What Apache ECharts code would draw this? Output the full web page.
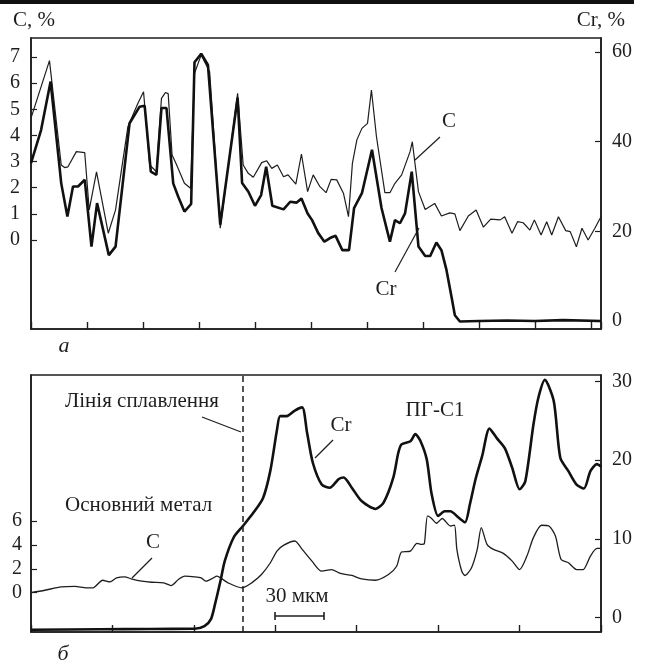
<!DOCTYPE html>
<html>
<head>
<meta charset="utf-8">
<script src="https://cdn.jsdelivr.net/npm/echarts@6/dist/echarts.min.js"></script>
<style>
  html, body { margin: 0; padding: 0; background: #fff; }
  #chart { width: 647px; height: 663px; }
</style>
</head>
<body>
<div id="chart"></div>
<script>
// панель а: C (ліва вісь), Cr (права вісь)
var aCx = [0, 0.33, 0.54, 0.60, 0.66, 0.81, 0.96, 1.04, 1.17, 1.38, 1.51, 1.73, 1.91, 2.01, 2.12, 2.24, 2.33, 2.40, 2.45, 2.52, 2.59, 2.74, 2.85, 2.92, 3.04, 3.19, 3.38, 3.69, 3.79, 3.88, 3.97, 4.12, 4.21, 4.30, 4.40, 4.51, 4.59, 4.73, 4.83, 4.94, 5.04, 5.16, 5.27, 5.36, 5.46, 5.58, 5.67, 5.74, 5.82, 5.91, 6.01, 6.08, 6.17, 6.32, 6.41, 6.50, 6.62, 6.77, 6.81, 6.92, 7.04, 7.21, 7.33, 7.48, 7.57, 7.66, 7.81, 7.95, 8.08, 8.21, 8.38, 8.46, 8.59, 8.69, 8.79, 8.91, 8.99, 9.11, 9.21, 9.30, 9.42, 9.55, 9.63, 9.74, 9.84, 9.95, 10.07, 10.18];
var aC = [4.66, 6.86, 2.87, 2.77, 2.80, 3.38, 3.34, 1.15, 2.61, 0.26, 1.15, 4.33, 5.23, 5.67, 2.87, 2.61, 5.42, 5.64, 5.60, 3.25, 2.93, 2.17, 1.98, 6.38, 7.08, 6.44, 0.45, 5.61, 2.87, 2.55, 2.40, 2.96, 3.03, 2.74, 2.87, 2.42, 2.49, 2.14, 3.29, 1.85, 2.49, 2.04, 1.81, 2.32, 2.30, 1.79, 0.89, 2.93, 3.83, 4.27, 4.46, 5.74, 3.95, 1.81, 1.81, 2.17, 2.49, 3.38, 3.76, 1.85, 1.17, 1.40, 0.92, 1.04, 1.00, 0.36, 0.92, 1.15, 0.49, 0.80, 0.77, 0.89, 0.26, 0.70, 0.66, 0.38, 0.77, 0.19, 0.70, 0.19, 0.89, 0.36, 0.32, -0.26, 0.45, 0.00, 0.45, 0.89];
var aCrx = [0, 0.18, 0.35, 0.54, 0.65, 0.75, 0.84, 0.96, 1.08, 1.18, 1.39, 1.51, 1.76, 1.94, 2.03, 2.14, 2.24, 2.33, 2.42, 2.54, 2.63, 2.74, 2.86, 2.92, 3.04, 3.16, 3.38, 3.69, 3.77, 3.88, 4.00, 4.11, 4.20, 4.31, 4.51, 4.63, 4.74, 4.83, 4.94, 5.02, 5.13, 5.24, 5.34, 5.44, 5.56, 5.68, 5.77, 5.91, 6.09, 6.26, 6.41, 6.50, 6.59, 6.68, 6.80, 6.92, 7.04, 7.13, 7.24, 7.33, 7.42, 7.51, 7.57, 7.66, 8.0, 8.5, 9.0, 9.5, 10.18];
var aCr = [35.2, 42.6, 53.4, 30.7, 23.3, 30.0, 30.0, 31.5, 16.6, 26.3, 14.7, 16.6, 44.1, 47.8, 48.0, 33.3, 32.6, 47.5, 47.5, 30.7, 27.7, 24.4, 26.1, 57.7, 59.6, 57.1, 21.5, 49.8, 30.8, 28.9, 25.7, 28.1, 34.4, 25.7, 24.9, 26.6, 26.4, 27.3, 24.0, 22.5, 19.6, 17.7, 18.5, 19.0, 15.8, 15.8, 25.2, 28.5, 38.2, 25.2, 17.7, 22.5, 21.8, 24.0, 33.3, 16.6, 14.5, 14.5, 17.5, 15.8, 11.4, 5.4, 1.3, -0.1, 0, 0.1, 0, 0.2, 0];

// панель б
var bCx = [0, 0.17, 0.37, 0.54, 0.68, 0.76, 0.88, 0.97, 1.05, 1.15, 1.23, 1.36, 1.48, 1.63, 1.72, 1.81, 1.89, 2.01, 2.09, 2.15, 2.24, 2.28, 2.42, 2.59, 2.71, 2.83, 2.94, 3.02, 3.10, 3.24, 3.33, 3.45, 3.57, 3.69, 3.80, 3.94, 4.06, 4.23, 4.39, 4.49, 4.55, 4.66, 4.74, 4.80, 4.83, 4.87, 4.92, 4.98, 5.05, 5.15, 5.20, 5.23, 5.29, 5.33, 5.41, 5.48, 5.53, 5.60, 5.68, 5.80, 5.91, 6.00, 6.09, 6.17, 6.27, 6.36, 6.44, 6.51, 6.60, 6.70, 6.78, 6.87, 6.95, 7.0];
var bC = [0, 0.2, 0.48, 0.53, 0.40, 0.40, 1.04, 0.90, 1.24, 1.33, 1.16, 0.96, 0.87, 0.82, 0.59, 1.10, 1.38, 1.33, 1.24, 0.96, 1.24, 1.38, 0.82, 0.40, 0.82, 1.52, 2.51, 3.49, 3.97, 4.34, 3.63, 2.65, 1.80, 1.94, 1.61, 1.44, 1.16, 1.04, 1.52, 2.22, 3.41, 3.49, 4.14, 4.06, 4.1, 6.45, 6.23, 5.83, 6.23, 5.60, 5.66, 3.63, 1.80, 1.44, 2.09, 3.63, 5.47, 4.06, 3.63, 3.30, 2.65, 1.94, 3.07, 4.62, 5.66, 5.60, 4.76, 2.79, 2.51, 1.94, 1.94, 3.07, 3.72, 3.72];
var bCrx = [0, 0.85, 1.46, 2.01, 2.13, 2.21, 2.26, 2.33, 2.38, 2.49, 2.60, 2.73, 2.85, 2.94, 3.02, 3.06, 3.14, 3.24, 3.33, 3.39, 3.46, 3.57, 3.67, 3.78, 3.84, 3.94, 4.06, 4.23, 4.33, 4.45, 4.51, 4.55, 4.66, 4.72, 4.78, 4.86, 4.92, 5.00, 5.08, 5.15, 5.25, 5.33, 5.39, 5.46, 5.54, 5.63, 5.72, 5.82, 5.91, 6.00, 6.07, 6.17, 6.23, 6.31, 6.42, 6.50, 6.60, 6.70, 6.79, 6.87, 6.95, 7.0];
var bCr = [-1.55, -1.5, -1.45, -1.43, -1.1, -0.2, 1.7, 4.8, 7.2, 10.2, 11.6, 13.3, 15.2, 18.7, 23.8, 25.6, 25.6, 26.3, 26.7, 23.5, 19.7, 16.9, 16.5, 17.6, 17.8, 16.5, 14.8, 13.8, 14.6, 17.8, 20.9, 22.0, 22.4, 23.3, 22.5, 20.1, 15.7, 12.9, 13.5, 13.5, 12.7, 12.1, 14.4, 17.6, 20.5, 24.0, 22.8, 21.5, 19.0, 16.3, 17.3, 24.5, 27.9, 30.2, 27.5, 20.3, 18.6, 16.9, 16.4, 18.6, 19.5, 19.2];

// лінія сплавлення
var fusionX = 2.6;

// підписи осей
var aCTicks = [0, 1, 2, 3, 4, 5, 6, 7];
var aCrTicks = [0, 20, 40, 60];
var bCTicks = [0, 2, 4, 6];
var bCrTicks = [0, 10, 20, 30];

function zip(xs, ys) {
  return xs.map(function (x, i) { return [x, ys[i]]; });
}

var ink = '#1e1e1e';
var serif = 'Liberation Serif';

function yAx(gi, pos, min, max, ticks, margin) {
  return {
    type: 'value', gridIndex: gi, position: pos, min: min, max: max,
    splitLine: {show: false},
    axisLine: {show: true, onZero: false, lineStyle: {color: ink, width: 1.6}},
    axisTick: {show: true, inside: true, length: 6, customValues: ticks, lineStyle: {color: ink, width: 1.2}},
    axisLabel: {customValues: ticks, margin: margin, color: ink, fontFamily: serif, fontSize: 20}
  };
}

function xAx(gi, max) {
  return {
    type: 'value', gridIndex: gi, min: 0, max: max, interval: 1,
    splitLine: {show: false},
    axisLine: {show: true, onZero: false, lineStyle: {color: ink, width: 1.6}},
    axisTick: {show: true, inside: true, length: 7, lineStyle: {color: ink, width: 1.4}},
    axisLabel: {show: false}
  };
}

function txt(x, y, s, size, align, italic) {
  return {
    type: 'text', x: x, y: y,
    style: {text: s, fill: ink, font: (italic ? 'italic ' : '') + size + 'px "' + serif + '"', textAlign: align || 'left', textVerticalAlign: 'middle'}
  };
}
function seg(x1, y1, x2, y2, w) {
  return {type: 'line', shape: {x1: x1, y1: y1, x2: x2, y2: y2}, style: {stroke: ink, lineWidth: w || 1.2}};
}

var chart = echarts.init(document.getElementById('chart'));
chart.setOption({
  backgroundColor: '#fff',
  animation: false,
  grid: [
    {left: 31, top: 38, width: 570, height: 291, show: true, borderColor: ink, borderWidth: 1.6},
    {left: 31, top: 375, width: 570, height: 257, show: true, borderColor: ink, borderWidth: 1.6}
  ],
  xAxis: [xAx(0, 10.18), xAx(1, 7.0)],
  yAxis: [
    yAx(0, 'left', -3.404, 7.727, aCTicks, 11),
    yAx(0, 'right', -1.78, 63.12, aCrTicks, 11),
    yAx(1, 'left', -3.31, 18.29, bCTicks, 9),
    yAx(1, 'right', -1.84, 30.82, bCrTicks, 11)
  ],
  series: [
    {name: 'C', type: 'line', xAxisIndex: 0, yAxisIndex: 0, data: zip(aCx, aC), showSymbol: false,
      lineStyle: {color: ink, width: 1.2}},
    {name: 'Cr', type: 'line', xAxisIndex: 0, yAxisIndex: 1, data: zip(aCrx, aCr), showSymbol: false,
      lineStyle: {color: '#111', width: 2.6}},
    {name: 'C', type: 'line', xAxisIndex: 1, yAxisIndex: 2, data: zip(bCx, bC), showSymbol: false, smooth: 0.25,
      lineStyle: {color: ink, width: 1.3},
      markLine: {silent: true, symbol: 'none', label: {show: false},
        lineStyle: {color: ink, type: [6, 4], width: 1.5}, data: [{xAxis: fusionX}]}},
    {name: 'Cr', type: 'line', xAxisIndex: 1, yAxisIndex: 3, data: zip(bCrx, bCr), showSymbol: false, smooth: 0.25,
      lineStyle: {color: '#111', width: 2.6}}
  ],
  graphic: [
    {type: 'rect', shape: {x: 0, y: 0, width: 634, height: 4}, style: {fill: '#111'}},
    txt(13, 20, 'C, %', 21),
    txt(625, 20, 'Cr, %', 21, 'right'),
    // панель а
    txt(449, 121, 'C', 21, 'center'),
    seg(440, 137, 415, 160),
    txt(386, 289, 'Cr', 21, 'center'),
    seg(395, 272, 419, 228),
    txt(64, 346, 'а', 22, 'center', true),
    // панель б
    txt(65, 401, 'Лінія сплавлення', 21),
    seg(202, 417, 241, 432),
    txt(65, 505, 'Основний метал', 21),
    txt(153, 542, 'C', 21, 'center'),
    seg(152, 558, 132, 578),
    txt(341, 425, 'Cr', 21, 'center'),
    seg(333, 440, 315, 458),
    txt(435, 410, 'ПГ-С1', 21, 'center'),
    txt(297, 596, '30 мкм', 21, 'center'),
    seg(275, 616, 324, 616, 1.6),
    seg(275, 612, 275, 620, 1.6),
    seg(324, 612, 324, 620, 1.6),
    txt(63, 654, 'б', 22, 'center', true)
  ]
});
</script>
</body>
</html>
